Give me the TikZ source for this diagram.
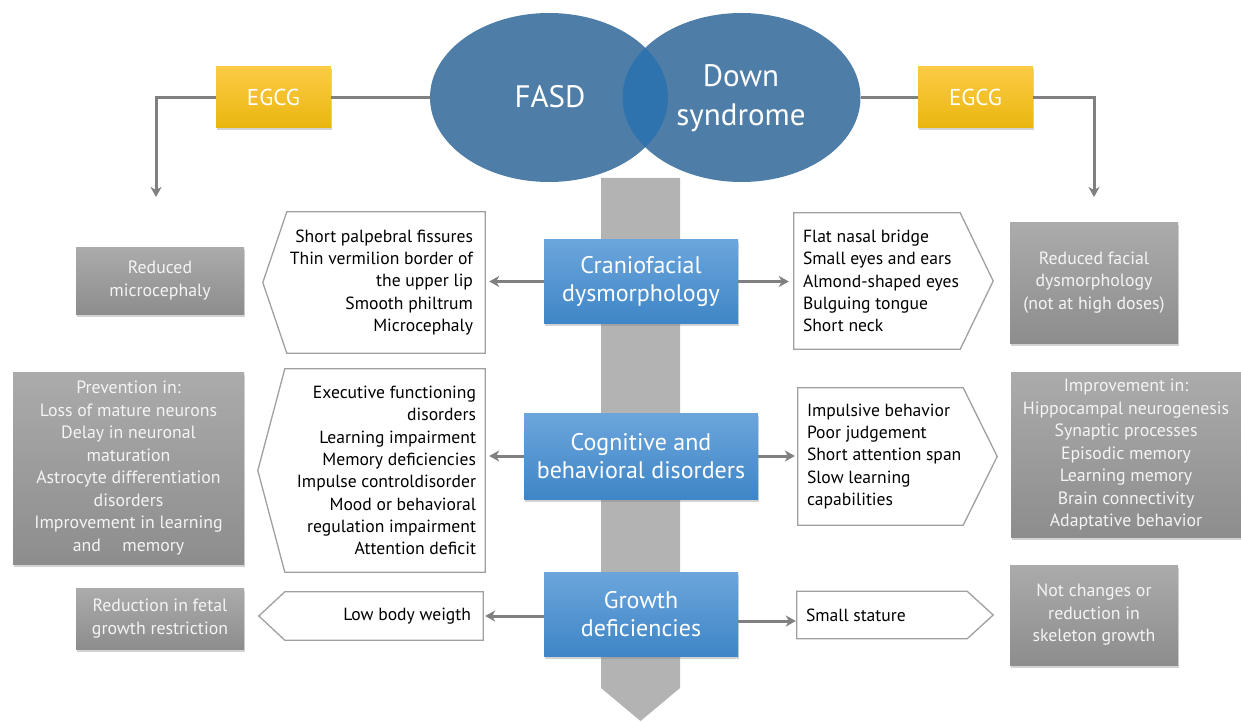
\documentclass[tikz,border=0pt]{standalone}
\usepackage{fontspec}
\setmainfont{PT Sans}
\usetikzlibrary{shadows,arrows.meta,calc,shapes.geometric}
\definecolor{ellc}{HTML}{4E7EA8}
\definecolor{ovc}{HTML}{2F73AE}
\definecolor{egtop}{HTML}{FDCB45}
\definecolor{egbot}{HTML}{E9B60F}
\definecolor{bltop}{HTML}{6CA5DC}
\definecolor{blbot}{HTML}{3E86C6}
\definecolor{grtop}{HTML}{ABABAB}
\definecolor{grbot}{HTML}{8D8D8D}
\definecolor{barc}{HTML}{B3B3B3}
\definecolor{connc}{HTML}{808080}
\definecolor{framec}{HTML}{A0A0A0}
\definecolor{gtxt}{HTML}{F4F4F4}
\begin{document}
\begin{tikzpicture}[x=1pt,y=-1pt,
  shad/.style={drop shadow={opacity=0.35,shadow xshift=1.2pt,shadow yshift=-2.5pt}},
  ell/.style={ellipse,minimum width=238pt,minimum height=169pt,inner sep=0pt,fill=ellc},
  elltxt/.style={text=white,font=\fontsize{31}{39}\selectfont,align=center,inner sep=0pt},
  egcg/.style={rectangle,minimum width=115pt,minimum height=61pt,inner sep=0pt,
    top color=egtop,bottom color=egbot,shad,text=white,font=\fontsize{23}{27}\selectfont},
  bluebox/.style={rectangle,inner sep=0pt,top color=bltop,bottom color=blbot,shad,
    text=white,align=center,font=\fontsize{24}{28}\selectfont},
  greybox/.style={rectangle,inner sep=0pt,top color=grtop,bottom color=grbot,shad,
    text=gtxt,align=center,font=\fontsize{17.8}{22.5}\selectfont},
  frame/.style={rectangle,inner sep=0pt,draw=none},
  wframe/.style={draw=framec,line width=1.3pt,fill=white,line join=miter},
  wtxt/.style={inner sep=0pt,text=black,font=\fontsize{17.6}{22.3}\selectfont},
  conn/.style={draw=connc,line width=3pt},
  arr/.style={conn,-{Stealth[length=10pt,width=11pt,inset=3pt]}}
]
\useasboundingbox (0,0) rectangle (1241,722);

% central grey bar
\fill[barc] (601,178) -- (680,178) -- (680,688) -- (640.5,721) -- (601,688) -- cycle;

% Venn ellipses
\node[ell] (fasd) at (549,97.5) {};
\node[ell] (ds) at (741.5,97.5) {};
\begin{scope}
  \clip (549,97.5) ellipse [x radius=119, y radius=84.5];
  \fill[ovc] (741.5,97.5) ellipse [x radius=119, y radius=84.5];
\end{scope}
\node[elltxt] (fasdt) at (550,97) {FASD};
\node[elltxt] (dst) at (741,98) {Down\\syndrome};

% EGCG boxes
\node[egcg] (egL) at (273.5,97.5) {EGCG};
\node[egcg] (egR) at (975.5,97.5) {EGCG};
\coordinate (tipL) at (156,197);
\coordinate (tipR) at (1094,197);
\draw[conn] (fasd.west) -- (egL.east);
\draw[arr] (egL.west) -| (tipL);
\draw[conn] (ds.east) -- (egR.west);
\draw[arr] (egR.east) -| (tipR);

% blue boxes
\node[bluebox,minimum width=194pt,minimum height=84pt] (cran) at (641,281.5) {Craniofacial\\dysmorphology};
\node[bluebox,minimum width=234pt,minimum height=86pt] (cog) at (641,456) {Cognitive and\\behavioral disorders};
\node[bluebox,minimum width=194pt,minimum height=84pt] (grow) at (641,614) {Growth\\deficiencies};

% white frames
\node[frame,minimum width=198pt,minimum height=141pt] (L1) at (386,282.5) {};
\node[frame,minimum width=166pt,minimum height=136pt] (R1) at (877,281) {};
\node[frame,minimum width=200pt,minimum height=203pt] (L2) at (385,470.5) {};
\node[frame,minimum width=165pt,minimum height=137pt] (R2) at (880.5,456.5) {};
\node[frame,minimum width=198pt,minimum height=48pt] (L3) at (384,616) {};
\node[frame,minimum width=170pt,minimum height=47pt] (R3) at (882,615) {};

\draw[wframe] (L1.north west) -- (L1.north east) -- (L1.south east) -- (L1.south west) -- ([xshift=-24pt]L1.west) -- cycle;
\draw[wframe] (L2.north west) -- (L2.north east) -- (L2.south east) -- (L2.south west) -- ([xshift=-27pt]L2.west) -- cycle;
\draw[wframe] (L3.north west) -- (L3.north east) -- (L3.south east) -- (L3.south west) -- ([xshift=-26pt]L3.west) -- cycle;
\draw[wframe] (R1.north west) -- (R1.north east) -- ([xshift=33pt]R1.east) -- (R1.south east) -- (R1.south west) -- cycle;
\draw[wframe] (R2.north west) -- (R2.north east) -- ([xshift=34pt]R2.east) -- (R2.south east) -- (R2.south west) -- cycle;
\draw[wframe] (R3.north west) -- (R3.north east) -- ([xshift=26pt]R3.east) -- (R3.south east) -- (R3.south west) -- cycle;

\node[wtxt,anchor=east,align=right] (L1t) at ([xshift=-12pt]L1.east) {Short palpebral fissures\\Thin vermilion border of\\the upper lip\\Smooth philtrum\\Microcephaly};
\node[wtxt,anchor=east,align=right] (L2t) at ([xshift=-9pt]L2.east) {Executive functioning\\disorders\\Learning impairment\\Memory deficiencies\\Impulse controldisorder\\Mood or behavioral\\regulation impairment\\Attention deficit};
\node[wtxt,anchor=east,align=right] (L3t) at ([xshift=-12pt]L3.east) {Low body weigth};
\node[wtxt,anchor=west,align=left] (R1t) at ([xshift=9pt]R1.west) {Flat nasal bridge\\Small eyes and ears\\Almond-shaped eyes\\Bulguing tongue\\Short neck};
\node[wtxt,anchor=west,align=left] (R2t) at ([xshift=9pt]R2.west) {Impulsive behavior\\Poor judgement\\Short attention span\\Slow learning\\capabilities};
\node[wtxt,anchor=west,align=left] (R3t) at ([xshift=9pt]R3.west) {Small stature};

% arrows from blue boxes
\draw[arr,shorten >=4pt] (cran.west) -- (cran.west -| L1.east);
\draw[arr,shorten >=5pt] (cran.east) -- (cran.east -| R1.west);
\draw[arr,shorten >=4pt] (cog.west) -- (cog.west -| L2.east);
\draw[arr,shorten >=3pt] (cog.east) -- (cog.east -| R2.west);
\draw[arr,shorten >=2pt] ([yshift=-2pt]grow.west) -- ([yshift=-2pt]grow.west -| L3.east);
\draw[arr,shorten >=1pt] ([yshift=-7pt]grow.east) -- ([yshift=-7pt]grow.east -| R3.west);

% grey result boxes
\node[greybox,minimum width=168pt,minimum height=67pt] (G1L) at (160,280.5) {Reduced\\microcephaly};
\node[greybox,minimum width=168pt,minimum height=121pt] (G1R) at (1094,282.5) {Reduced facial\\dysmorphology\\(not at high doses)};
\node[greybox,minimum width=231pt,minimum height=192pt] (G2L) at (128.5,468) {Prevention in:\\Loss of mature neurons\\Delay in neuronal\\maturation\\Astrocyte differentiation\\disorders\\Improvement in learning\\and\hspace{1.2em}memory};
\node[greybox,minimum width=230pt,minimum height=165pt] (G2R) at (1126,454.5) {Improvement in:\\Hippocampal neurogenesis\\Synaptic processes\\Episodic memory\\Learning memory\\Brain connectivity\\Adaptative behavior};
\node[greybox,minimum width=168pt,minimum height=61pt] (G3L) at (160,618.5) {Reduction in fetal\\growth restriction};
\node[greybox,minimum width=168pt,minimum height=100pt] (G3R) at (1094,615) {Not changes or\\reduction in\\skeleton growth};
\end{tikzpicture}
\end{document}
